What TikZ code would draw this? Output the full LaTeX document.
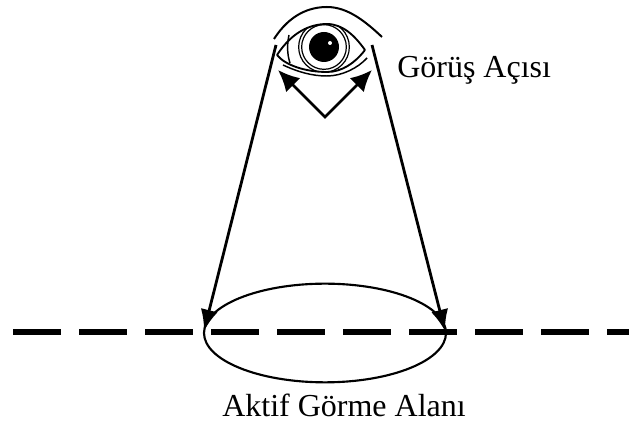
\documentclass[tikz,border=0pt]{standalone}
\usepackage{fontspec}
\setmainfont{Liberation Serif}
\usetikzlibrary{arrows.meta,shapes.geometric}
\definecolor{inkblack}{HTML}{000000}
\tikzset{
  viewarrow/.style={-{Latex[length=16pt,width=13pt]},line width=2.1pt,draw=inkblack},
  anglearrow/.style={{Latex[length=16pt,width=15pt]}-{Latex[length=16pt,width=15pt]},line width=2.1pt,draw=inkblack},
  eyeline/.style={line width=1.1pt,draw=inkblack},
  floorline/.style={line width=4.5pt,draw=inkblack,dash pattern=on 36pt off 13.5pt},
  fieldarea/.style={ellipse,draw=inkblack,line width=1.6pt,minimum width=181.5pt,minimum height=74pt,inner sep=0pt},
  caption/.style={font=\fontsize{24pt}{26pt}\selectfont,inner sep=0pt,text=inkblack}
}
\begin{document}
\begin{tikzpicture}[x=0.75pt,y=-0.75pt]
\useasboundingbox (0,0) rectangle (629,423);
% ground line and seen area
\coordinate (floorL) at (13,332);
\coordinate (floorR) at (629,332);
\draw[floorline] (floorL) -- (floorR);
\node[fieldarea] (field) at (325,333) {};
% named ends of the sight lines
\coordinate (eyeL) at (276,45);
\coordinate (eyeR) at (372,45);
\coordinate (fieldL) at (204,331);
\coordinate (fieldR) at (445,331);
\coordinate (apex) at (325,117);
\coordinate (lidL) at (278,70);
\coordinate (lidR) at (372,70);
\draw[viewarrow] (eyeL) -- (fieldL);
\draw[viewarrow] (eyeR) -- (fieldR);
\draw[anglearrow] (lidL) -- (apex) -- (lidR);
% eye
\draw[eyeline,line width=1.5pt] (274,39) .. controls (290,14) and (310,7) .. (327,7) .. controls (348,7) and (366,22) .. (382,37);
\draw[eyeline,line width=1.4pt] (277,55) .. controls (292,32) and (310,24) .. (327,24) .. controls (343,24) and (355,36) .. (365,50);
\draw[eyeline,line width=1.4pt] (277,55) .. controls (285,65) and (305,72) .. (327,72) .. controls (342,72) and (355,63) .. (365,50);
\draw[eyeline] (283,65) .. controls (298,72) and (312,76) .. (327,76) .. controls (342,76) and (358,68) .. (367,58);
\draw[eyeline] (289,35) .. controls (287,44) and (287,54) .. (290,63);
% iris rings, cut off by the lids
\begin{scope}
\clip (277,55) .. controls (292,32) and (310,24) .. (327,24) .. controls (343,24) and (355,36) .. (365,50) .. controls (355,63) and (342,72) .. (327,72) .. controls (305,72) and (285,65) .. (277,55) -- cycle;
\node[circle,draw=inkblack,line width=0.9pt,minimum size=38pt,inner sep=0pt] (iris) at (324,47) {};
\node[circle,draw=inkblack,line width=0.9pt,minimum size=33.5pt,inner sep=0pt] (irisin) at (324,47) {};
\end{scope}
\node[circle,fill=inkblack,minimum size=22.5pt,inner sep=0pt] (pupil) at (324,47) {};
\node[circle,fill=white,minimum size=3pt,inner sep=0pt] (glint) at (330,43) {};
% labels
\node[caption,anchor=base west] (anglelabel) at (397,78) {Görüş Açısı};
\node[caption,anchor=base west] (arealabel) at (222,417) {Aktif Görme Alanı};
\end{tikzpicture}
\end{document}
